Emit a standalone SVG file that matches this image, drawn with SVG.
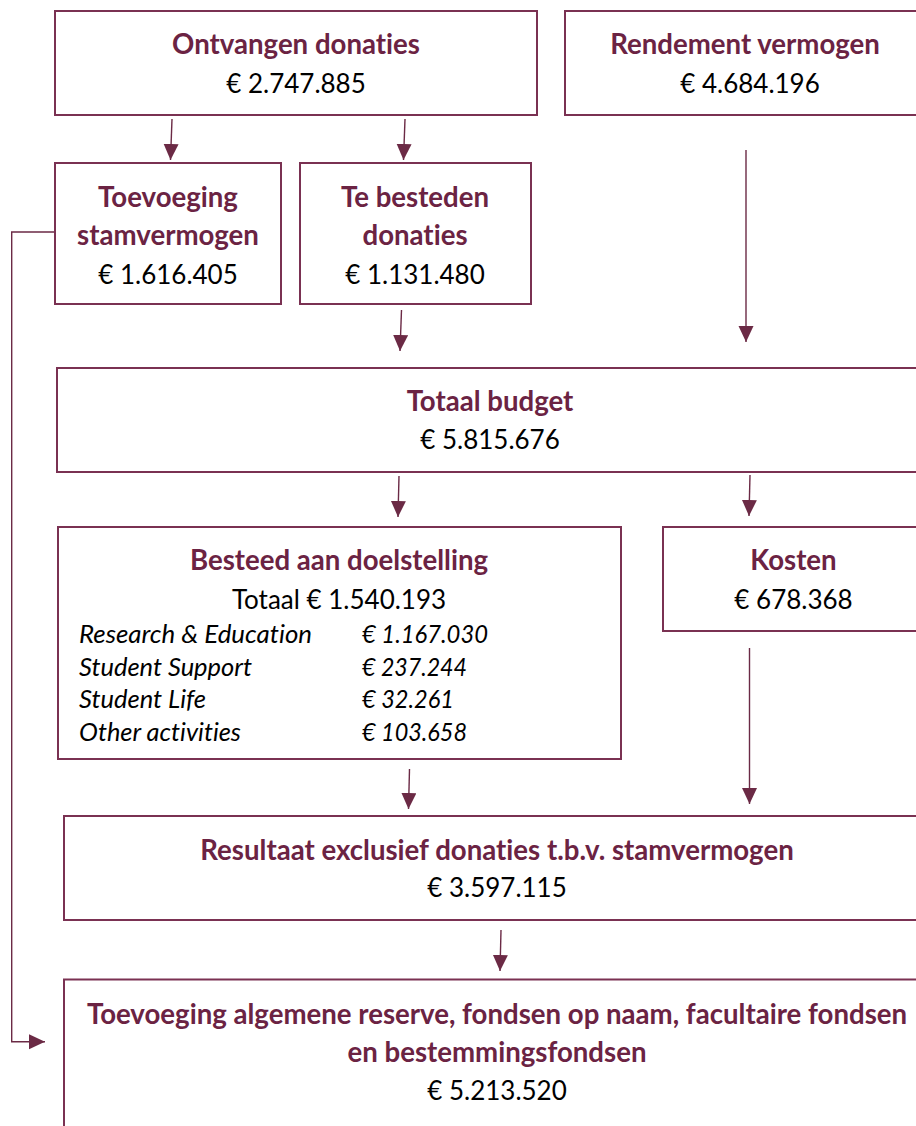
<svg xmlns="http://www.w3.org/2000/svg" width="916" height="1126" viewBox="0 0 916 1126">
<style>
text{font-variant-ligatures:none;font-feature-settings:"liga" 0,"dlig" 0}
.box{fill:#ffffff;stroke:#7a3152;stroke-width:2}
.t{font-family:Lato,"Liberation Sans",sans-serif;font-size:27.6px;font-weight:bold;fill:#6b2343;text-anchor:middle}
.v{font-family:Lato,"Liberation Sans",sans-serif;font-size:26px;fill:#000000;text-anchor:middle}
.i{font-family:Lato,"Liberation Sans",sans-serif;font-size:24.5px;font-style:italic;fill:#000000}
.c{fill:none;stroke:#6b2a45;stroke-width:1.4}
</style>
<defs>
<marker id="ah" markerUnits="userSpaceOnUse" markerWidth="16" markerHeight="16" refX="16" refY="7.5" orient="auto">
<path d="M0,0 L16,7.5 L0,15 z" fill="#6b2a45"/>
</marker>
</defs>
<rect width="916" height="1126" fill="#ffffff"/>
<g id="connectors">
<path class="c" d="M172,119 L170.5,160" marker-end="url(#ah)"/>
<path class="c" d="M405,119 L403.5,160" marker-end="url(#ah)"/>
<path class="c" d="M746,150 L746,342" marker-end="url(#ah)"/>
<path class="c" d="M401.5,310 L400,351" marker-end="url(#ah)"/>
<path class="c" d="M399,476 L398,517" marker-end="url(#ah)"/>
<path class="c" d="M750,475 L749,516" marker-end="url(#ah)"/>
<path class="c" d="M409.5,769 L408.5,809" marker-end="url(#ah)"/>
<path class="c" d="M749.5,648 L749.5,804" marker-end="url(#ah)"/>
<path class="c" d="M501,930 L500,971" marker-end="url(#ah)"/>
<path class="c" d="M54,232 L11.7,232 L11.7,1041.7 L45,1041.7" marker-end="url(#ah)"/>
</g>
<g id="ontvangen">
<rect class="box" x="55" y="11" width="482" height="104"/>
<text class="t" x="296" y="54">Ontvangen donaties</text>
<text class="v" x="296" y="93">€ 2.747.885</text>
</g>
<g id="rendement">
<rect class="box" x="565" y="11" width="360" height="104"/>
<text class="t" x="745" y="54">Rendement vermogen</text>
<text class="v" x="750" y="93">€ 4.684.196</text>
</g>
<g id="toevoeging-stam">
<rect class="box" x="55" y="163" width="226" height="141"/>
<text class="t" x="168" y="206.5">Toevoeging</text>
<text class="t" x="168" y="245">stamvermogen</text>
<text class="v" x="168" y="283.5">€ 1.616.405</text>
</g>
<g id="te-besteden">
<rect class="box" x="300" y="163" width="231" height="141"/>
<text class="t" x="415" y="206.5">Te besteden</text>
<text class="t" x="415" y="245">donaties</text>
<text class="v" x="415" y="283.5">€ 1.131.480</text>
</g>
<g id="totaal-budget">
<rect class="box" x="57" y="368" width="870" height="104"/>
<text class="t" x="490" y="411">Totaal budget</text>
<text class="v" x="490" y="449">€ 5.815.676</text>
</g>
<g id="besteed">
<rect class="box" x="58" y="527" width="563" height="232"/>
<text class="t" x="339" y="570">Besteed aan doelstelling</text>
<text class="v" x="339" y="609">Totaal € 1.540.193</text>
<text class="i" x="79" y="642.5" textLength="233" lengthAdjust="spacingAndGlyphs">Research &amp; Education</text>
<text class="i" x="362" y="642.5" textLength="126" lengthAdjust="spacingAndGlyphs">€ 1.167.030</text>
<text class="i" x="79" y="675.5" textLength="173" lengthAdjust="spacingAndGlyphs">Student Support</text>
<text class="i" x="362" y="675.5" textLength="105" lengthAdjust="spacingAndGlyphs">€ 237.244</text>
<text class="i" x="79" y="708" textLength="127" lengthAdjust="spacingAndGlyphs">Student Life</text>
<text class="i" x="362" y="708" textLength="92" lengthAdjust="spacingAndGlyphs">€ 32.261</text>
<text class="i" x="79" y="740.5" textLength="162" lengthAdjust="spacingAndGlyphs">Other activities</text>
<text class="i" x="362" y="740.5" textLength="105" lengthAdjust="spacingAndGlyphs">€ 103.658</text>
</g>
<g id="kosten">
<rect class="box" x="663" y="527" width="262" height="104"/>
<text class="t" x="793.5" y="570">Kosten</text>
<text class="v" x="793.5" y="609">€ 678.368</text>
</g>
<g id="resultaat">
<rect class="box" x="64" y="816" width="862" height="104"/>
<text class="t" x="497" y="860">Resultaat exclusief donaties t.b.v. stamvermogen</text>
<text class="v" x="497" y="897">€ 3.597.115</text>
</g>
<g id="toevoeging-algemeen">
<rect class="box" x="64" y="979.5" width="862" height="160"/>
<text class="t" x="497" y="1024">Toevoeging algemene reserve, fondsen op naam, facultaire fondsen</text>
<text class="t" x="497" y="1061.5">en bestemmingsfondsen</text>
<text class="v" x="497" y="1100">€ 5.213.520</text>
</g>
</svg>
